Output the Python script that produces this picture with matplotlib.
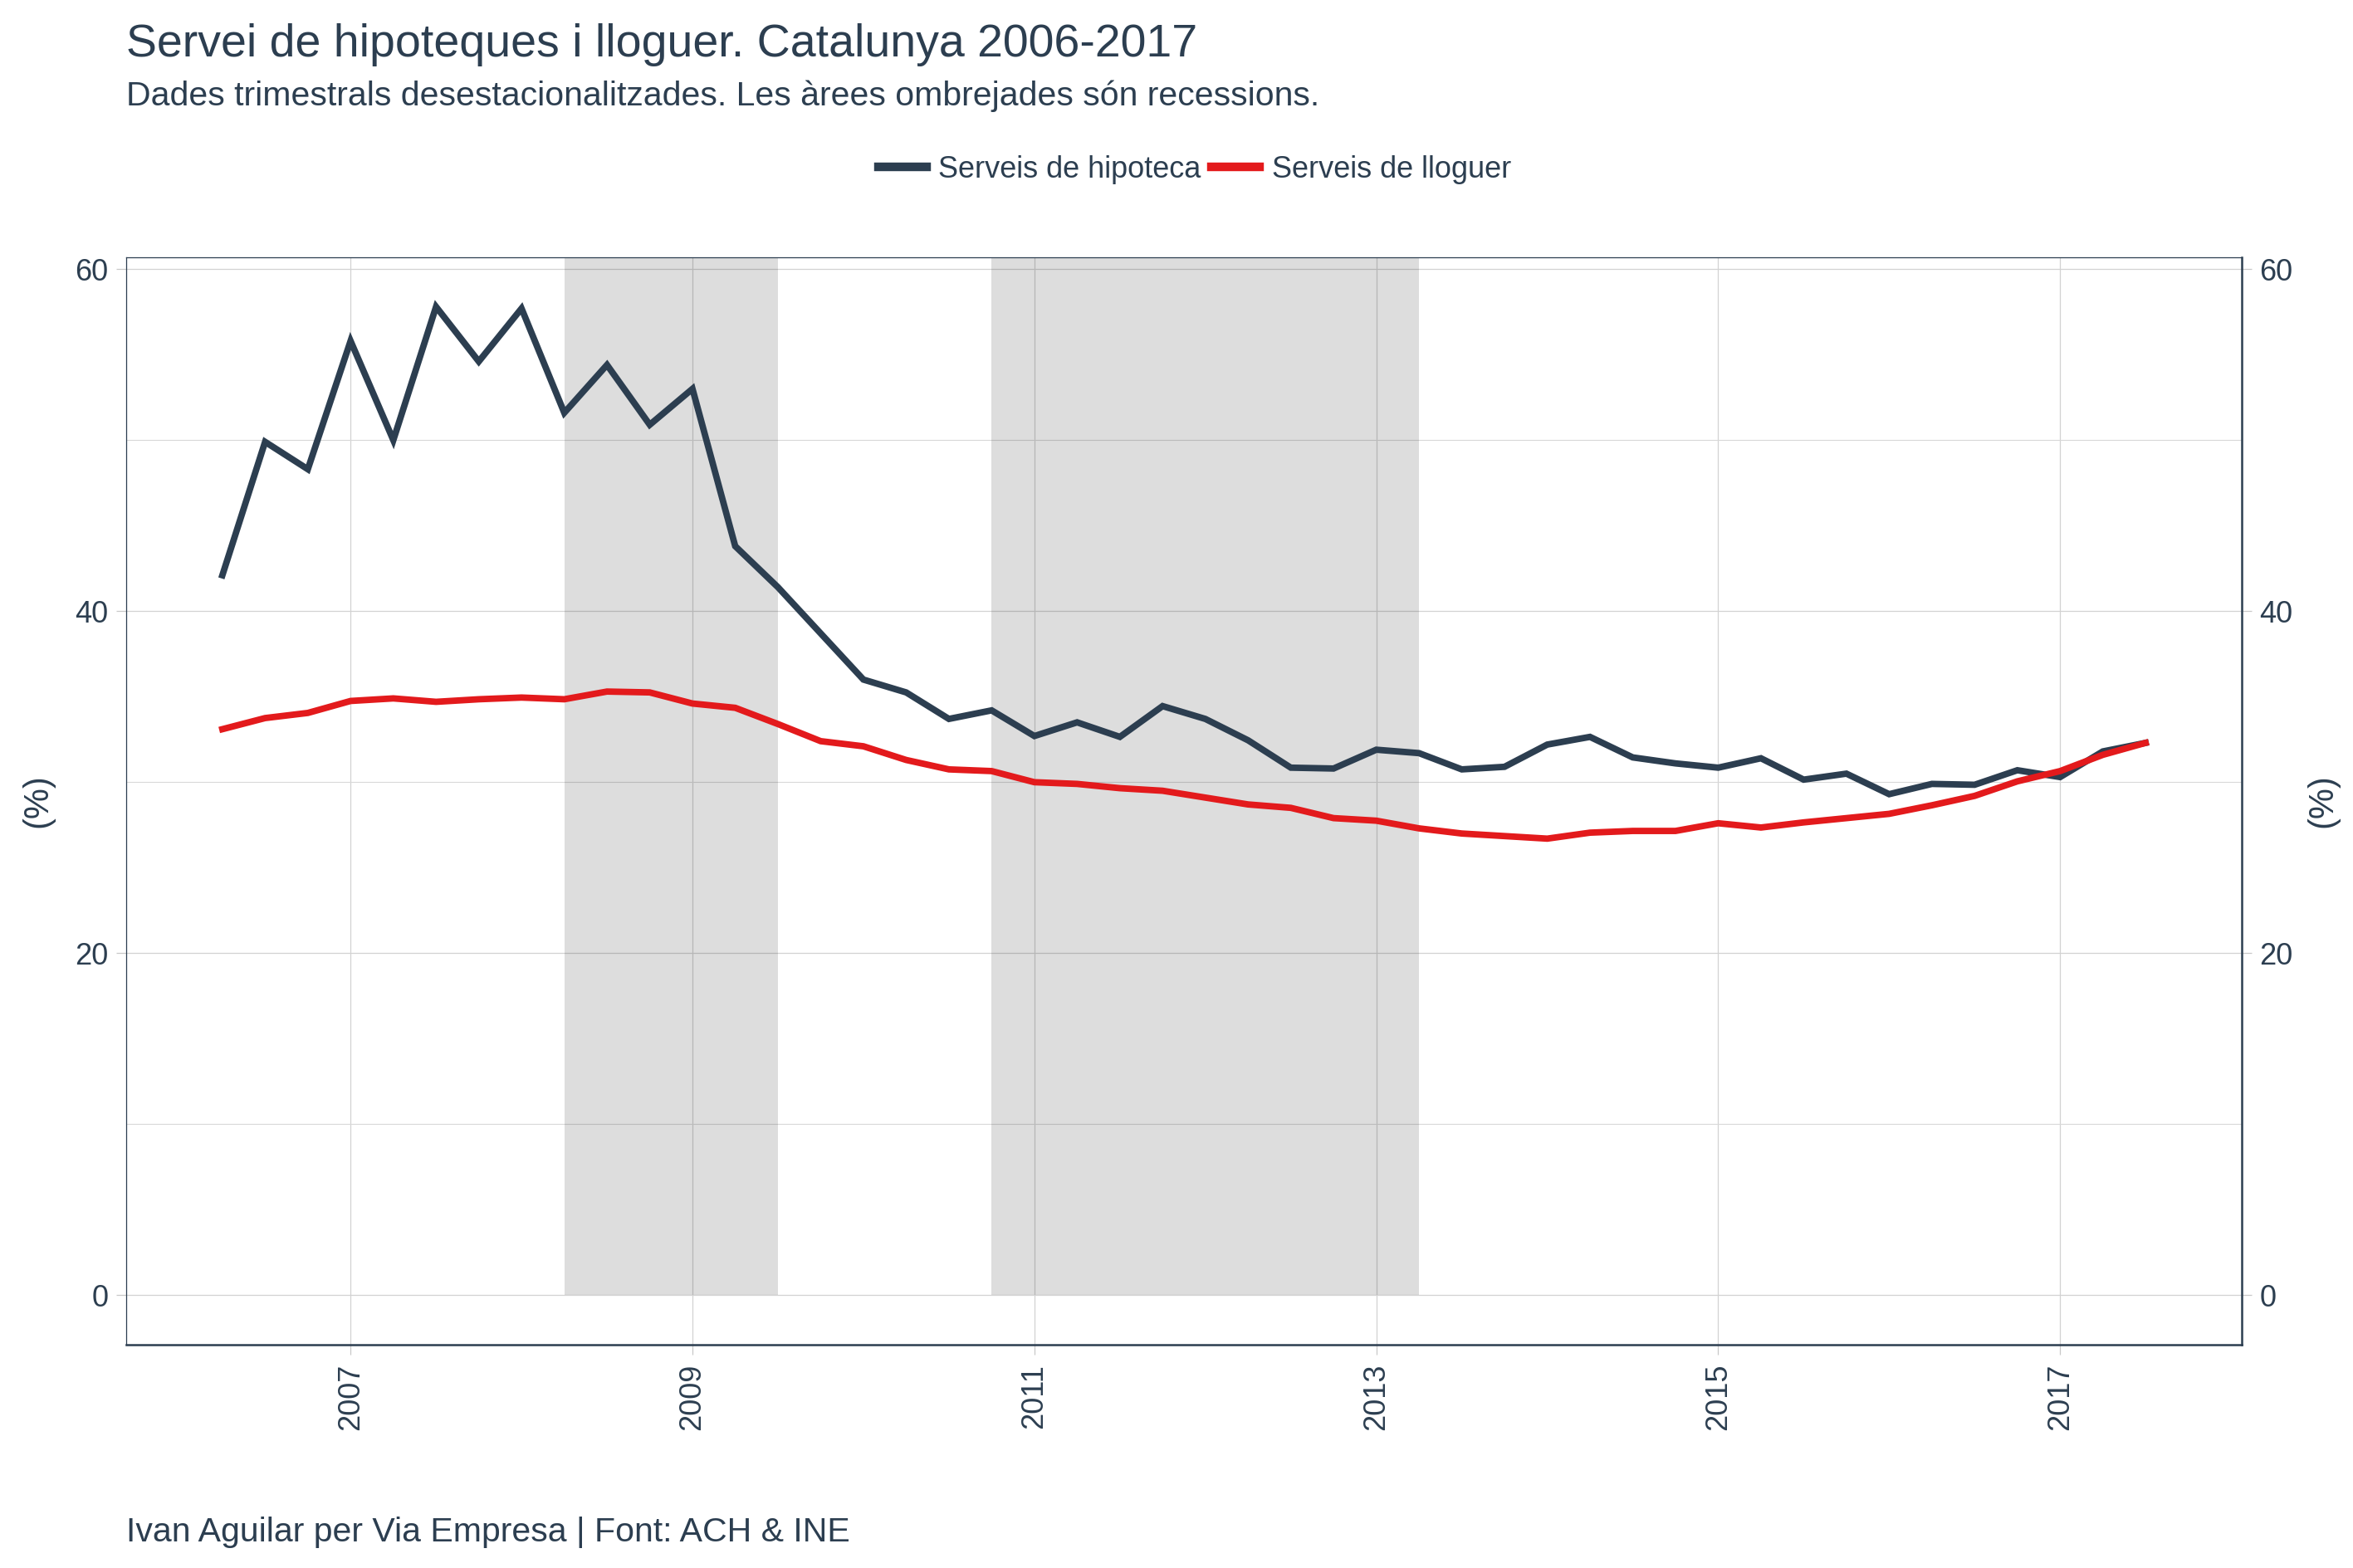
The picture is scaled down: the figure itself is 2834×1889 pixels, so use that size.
import matplotlib
matplotlib.use("Agg")
import matplotlib.pyplot as plt
from matplotlib.lines import Line2D
from matplotlib.ticker import MultipleLocator
import numpy as np

# ---- data (quarterly, starting 2006 Q2) ----
start_year = 2006.25
hipoteca = [42.1, 49.9, 48.3, 55.8, 50.0, 57.8, 54.6, 57.7, 51.6, 54.4,
            50.9, 53.0, 43.8, 41.4, 38.7, 36.0, 35.25, 33.7, 34.2, 32.7,
            33.5, 32.65, 34.45, 33.7, 32.45, 30.85, 30.8, 31.9, 31.7, 30.75,
            30.9, 32.2, 32.65, 31.45, 31.1, 30.85, 31.4, 30.15, 30.5, 29.3,
            29.9, 29.85, 30.7, 30.3, 31.8, 32.3]
lloguer = [33.1, 33.75, 34.05, 34.75, 34.9, 34.7, 34.85, 34.95, 34.85, 35.3,
           35.25, 34.6, 34.35, 33.4, 32.4, 32.1, 31.3, 30.75, 30.65, 30.0,
           29.9, 29.65, 29.5, 29.1, 28.7, 28.5, 27.9, 27.75, 27.3, 27.0,
           26.85, 26.7, 27.05, 27.15, 27.15, 27.6, 27.35, 27.65, 27.9, 28.15,
           28.65, 29.2, 30.05, 30.65, 31.6, 32.3]
recession_start = [2008.25, 2010.75]
recession_end = [2009.5, 2013.25]
x_ticks = [2007, 2009, 2011, 2013, 2015, 2017]
y_ticks = [0, 20, 40, 60]
series_names = ["Serveis de hipoteca", "Serveis de lloguer"]

TXT = "#2C3E50"
DARK = "#2C3E50"
RED = "#E31A1C"

plt.rcParams["font.family"] = ["Liberation Sans", "DejaVu Sans"]

x = start_year + 0.25 * np.arange(len(hipoteca))

fig = plt.figure(figsize=(28.34, 18.89), dpi=100)
ax = fig.add_axes([152/2834, 1-1620/1889, (2700-152)/2834, (1620-310)/1889])

ax.set_xlim(2005.6875, 2018.0625)
ax.set_ylim(-2.89, 60.69)

# grid
ax.set_xticks(x_ticks)
ax.set_yticks(y_ticks)
ax.yaxis.set_minor_locator(MultipleLocator(10))
ax.grid(which="major", color="#d2d2d2", lw=0.9, zorder=0)
ax.grid(which="minor", axis="y", color="#d8d8d8", lw=0.8, zorder=0)
ax.set_axisbelow(True)

# recessions
for s, e in zip(recession_start, recession_end):
    ax.axvspan(s, e, ymin=(0 - (-2.89)) / (60.69 + 2.89), ymax=1,
               facecolor="black", alpha=0.135, lw=0, zorder=1)

ax.plot(x, hipoteca, color=DARK, lw=5.6, zorder=3, solid_joinstyle="miter")
ax.plot(x, lloguer, color=RED, lw=5.6, zorder=4, solid_joinstyle="miter")

# spines
for side in ["top", "left"]:
    ax.spines[side].set_color(DARK)
    ax.spines[side].set_linewidth(0.9)
for side in ["bottom", "right"]:
    ax.spines[side].set_color(DARK)
    ax.spines[side].set_linewidth(1.8)

ax.tick_params(axis="both", which="major", labelsize=26, labelcolor=TXT,
               color="#c8c8c8", length=8.5, width=0.9)
ax.tick_params(axis="x", rotation=90, pad=8)
ax.tick_params(axis="y", which="major", left=True, right=True,
               labelleft=True, labelright=True, pad=7)
ax.tick_params(axis="y", which="minor", left=False, right=False)
for lab in ax.get_xticklabels():
    lab.set_verticalalignment("top")

# axis titles
fig.text(45/2834, 1-965/1889, "(%)", rotation=90, ha="center", va="center",
         fontsize=30, color=TXT)
fig.text(2797/2834, 1-965/1889, "(%)", rotation=90, ha="center", va="center",
         fontsize=30, color=TXT)

# titles
fig.text(152/2834, 1-68/1889, "Servei de hipoteques i lloguer. Catalunya 2006-2017",
         ha="left", va="baseline", fontsize=40, color=TXT)
fig.text(152/2834, 1-127/1889,
         "Dades trimestrals desestacionalitzades. Les àrees ombrejades són recessions.",
         ha="left", va="baseline", fontsize=29.5, color=TXT)
fig.text(152/2834, 1-1857/1889, "Ivan Aguilar per Via Empresa | Font: ACH & INE",
         ha="left", va="baseline", fontsize=29.5, color=TXT)

# legend
handles = [Line2D([0], [0], color=DARK, lw=7.5),
           Line2D([0], [0], color=RED, lw=7.5)]
fig.legend(handles, series_names, loc="center", bbox_to_anchor=(1439/2834, 1-204/1889),
           ncol=2, frameon=False, fontsize=26, handlelength=1.6, handletextpad=0.4,
           columnspacing=0.35, labelcolor=TXT)

fig.savefig("out.png", dpi=100)
